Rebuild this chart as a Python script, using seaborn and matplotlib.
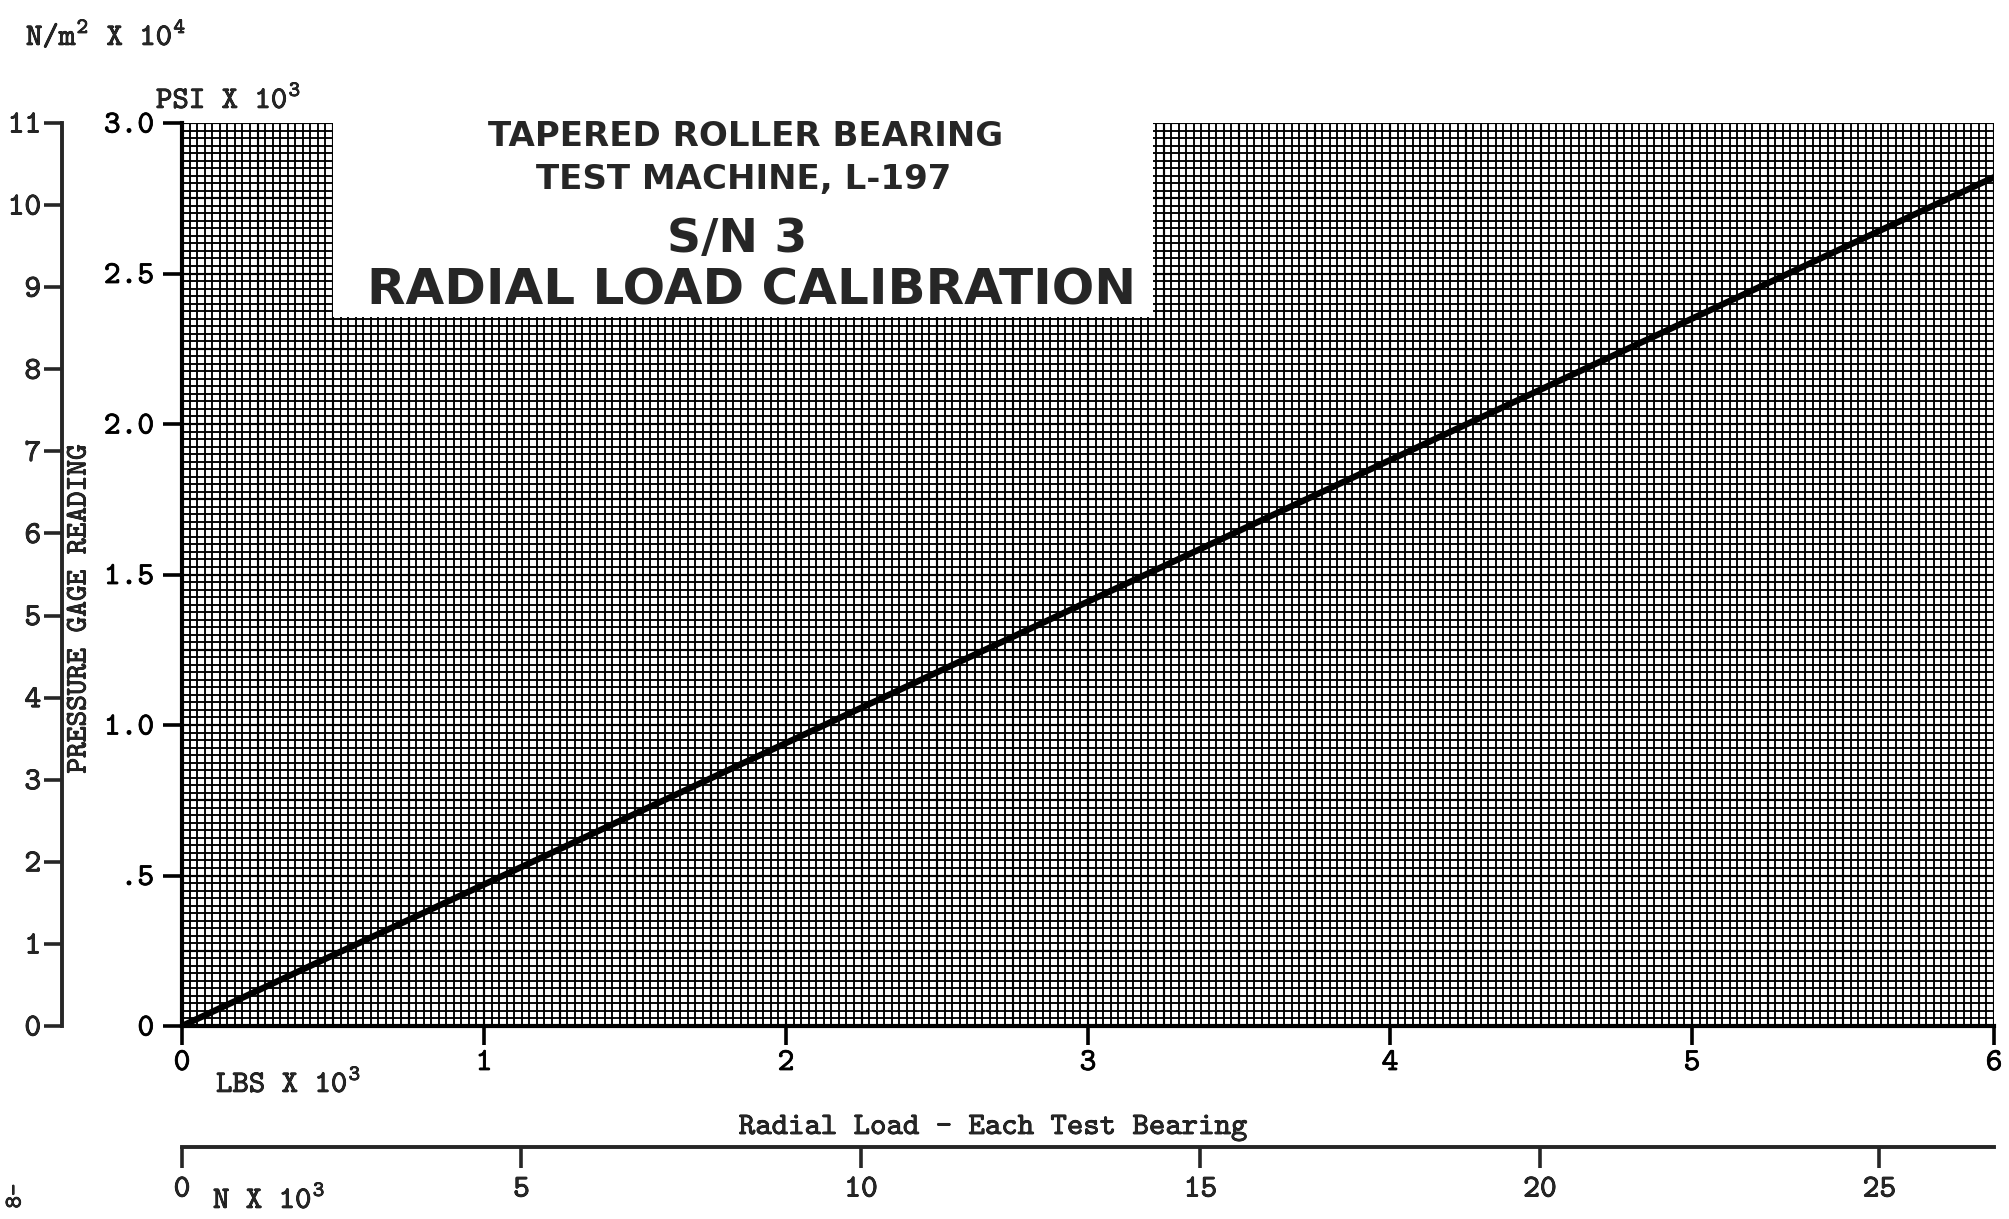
import numpy as np
import pandas as pd
import matplotlib
matplotlib.use("Agg")
import matplotlib.pyplot as plt
import matplotlib.patheffects as pe
from matplotlib.patches import Rectangle
import seaborn as sns

# ---------------- data ----------------
load_klbs = [0, 1, 2, 3, 4, 5, 6]
pressure_kpsi = [0.0, 0.47, 0.94, 1.41, 1.88, 2.35, 2.82]

x_ticks = [0, 1, 2, 3, 4, 5, 6]
x_tick_labels = ["0", "1", "2", "3", "4", "5", "6"]
y_ticks = [0, 0.5, 1.0, 1.5, 2.0, 2.5, 3.0]
y_tick_labels = ["0", ".5", "1.0", "1.5", "2.0", "2.5", "3.0"]
n_ticks = [0, 5, 10, 15, 20, 25]
nm2_ticks = [0, 1, 2, 3, 4, 5, 6, 7, 8, 9, 10, 11]

title_lines = ["TAPERED ROLLER BEARING", "TEST MACHINE, L-197", "S/N 3",
               "RADIAL LOAD CALIBRATION"]

df = pd.DataFrame({"load": load_klbs, "pressure": pressure_kpsi})

# ---------------- style ----------------
sns.set_style("ticks")
plt.rcParams["font.family"] = ["cmtt10", "DejaVu Serif"]
plt.rcParams["mathtext.default"] = "regular"
plt.rcParams["axes.unicode_minus"] = False

BOLDEN = [pe.withStroke(linewidth=0.55, foreground="black")]

W, H = 2009, 1219
fig = plt.figure(figsize=(W / 100, H / 100), dpi=100)
fig.patch.set_facecolor("white")
L, R, B, T = 182, 1994, 1026, 123
ax = fig.add_axes([L / W, 1 - B / H, (R - L) / W, (B - T) / H])
ax.set_facecolor("white")

ax.set_xlim(0, 6)
ax.set_ylim(0, 3.0)

# graph-paper grid
ax.set_xticks(np.arange(0, 6.0001, 0.025), minor=True)
ax.set_yticks(np.arange(0, 3.0001, 0.025), minor=True)
ax.tick_params(which="minor", length=0)
ax.set_axisbelow(True)
ax.grid(which="both", color="black", lw=1.35)
ax.vlines(np.arange(0, 6.0001, 0.25), 0, 3, color="black", lw=1.55, zorder=0.6)
ax.hlines(np.arange(0, 3.0001, 0.25), 0, 6, color="black", lw=1.55, zorder=0.6)

# white paste-over for the title block
ax.add_patch(Rectangle((0.5, 2.357), 3.215 - 0.5, 1.0, facecolor="white",
                       edgecolor="none", zorder=1))

sns.lineplot(data=df, x="load", y="pressure", ax=ax, color="black", lw=4.6,
             zorder=3, legend=False)

for s in ["top", "right"]:
    ax.spines[s].set_visible(False)
for s in ["left", "bottom"]:
    ax.spines[s].set_linewidth(3)
    ax.spines[s].set_color("black")

ax.set_xticks(x_ticks, x_tick_labels)
ax.set_yticks(y_ticks, y_tick_labels)
ax.tick_params(which="major", direction="out", length=14, width=2.6,
               labelsize=23, color="black", labelcolor="black")
ax.tick_params(axis="x", which="major", pad=4)
ax.tick_params(axis="y", which="major", pad=6)

ax.set_xlabel("Radial Load - Each Test Bearing", fontsize=22.5)
ax.xaxis.set_label_coords((993 - L) / (R - L), (B - 1128) / (B - T))
ax.xaxis.label.set_va("center")
ax.set_ylabel("PRESSURE GAGE READING", fontsize=21.5)
ax.yaxis.set_label_coords((80 - L) / (R - L), (B - 609) / (B - T))
ax.yaxis.label.set_va("center")

# outer pressure scale (N/m^2 x 10^4)
sec_y = ax.secondary_yaxis((62 - L) / (R - L),
                           functions=(lambda p: p * 11 / 3, lambda v: v * 3 / 11))
sec_y.set_yticks(nm2_ticks)
sec_y.spines["left"].set_linewidth(2.8)
sec_y.tick_params(direction="out", length=13, width=2.6, labelsize=23, pad=2)

# lower load scale (N x 10^3)
sec_x = ax.secondary_xaxis(-(1147 - B) / (B - T),
                           functions=(lambda x: x * 4.448, lambda n: n / 4.448))
sec_x.set_xticks(n_ticks)
sec_x.spines["bottom"].set_linewidth(2.8)
sec_x.tick_params(direction="out", length=15, width=2.6, labelsize=23, pad=7)

texts = []
# unit labels
texts.append(fig.text(26 / W, 1 - 45 / H, "N/m$^2$ X 10$^4$", fontsize=22.5, va="baseline"))
texts.append(fig.text(156 / W, 1 - 108 / H, "PSI X 10$^3$", fontsize=22.5, va="baseline"))
texts.append(fig.text(216 / W, 1 - 1092 / H, "LBS X 10$^3$", fontsize=22.5, va="baseline"))
texts.append(fig.text(213 / W, 1 - 1208 / H, "N X 10$^3$", fontsize=22.5, va="baseline"))
texts.append(fig.text(16 / W, 1 - 1196 / H, "8-", fontsize=17, rotation=90,
                      ha="center", va="center"))

for t in (texts + ax.get_xticklabels() + ax.get_yticklabels()
          + sec_x.get_xticklabels() + sec_y.get_yticklabels()
          + [ax.xaxis.label, ax.yaxis.label]):
    t.set_path_effects(BOLDEN)

# title block
title_x = [746, 744, 737, 752]
title_y = [137, 180, 240, 291]
title_size = [24.5, 24.5, 34, 36]
for txt, xx, yy, sz in zip(title_lines, title_x, title_y, title_size):
    fig.text(xx / W, 1 - yy / H, txt, fontsize=sz, fontweight="bold",
             family="DejaVu Sans", ha="center", va="center", zorder=5)

fig.savefig("out.png", dpi=100, facecolor="white")
